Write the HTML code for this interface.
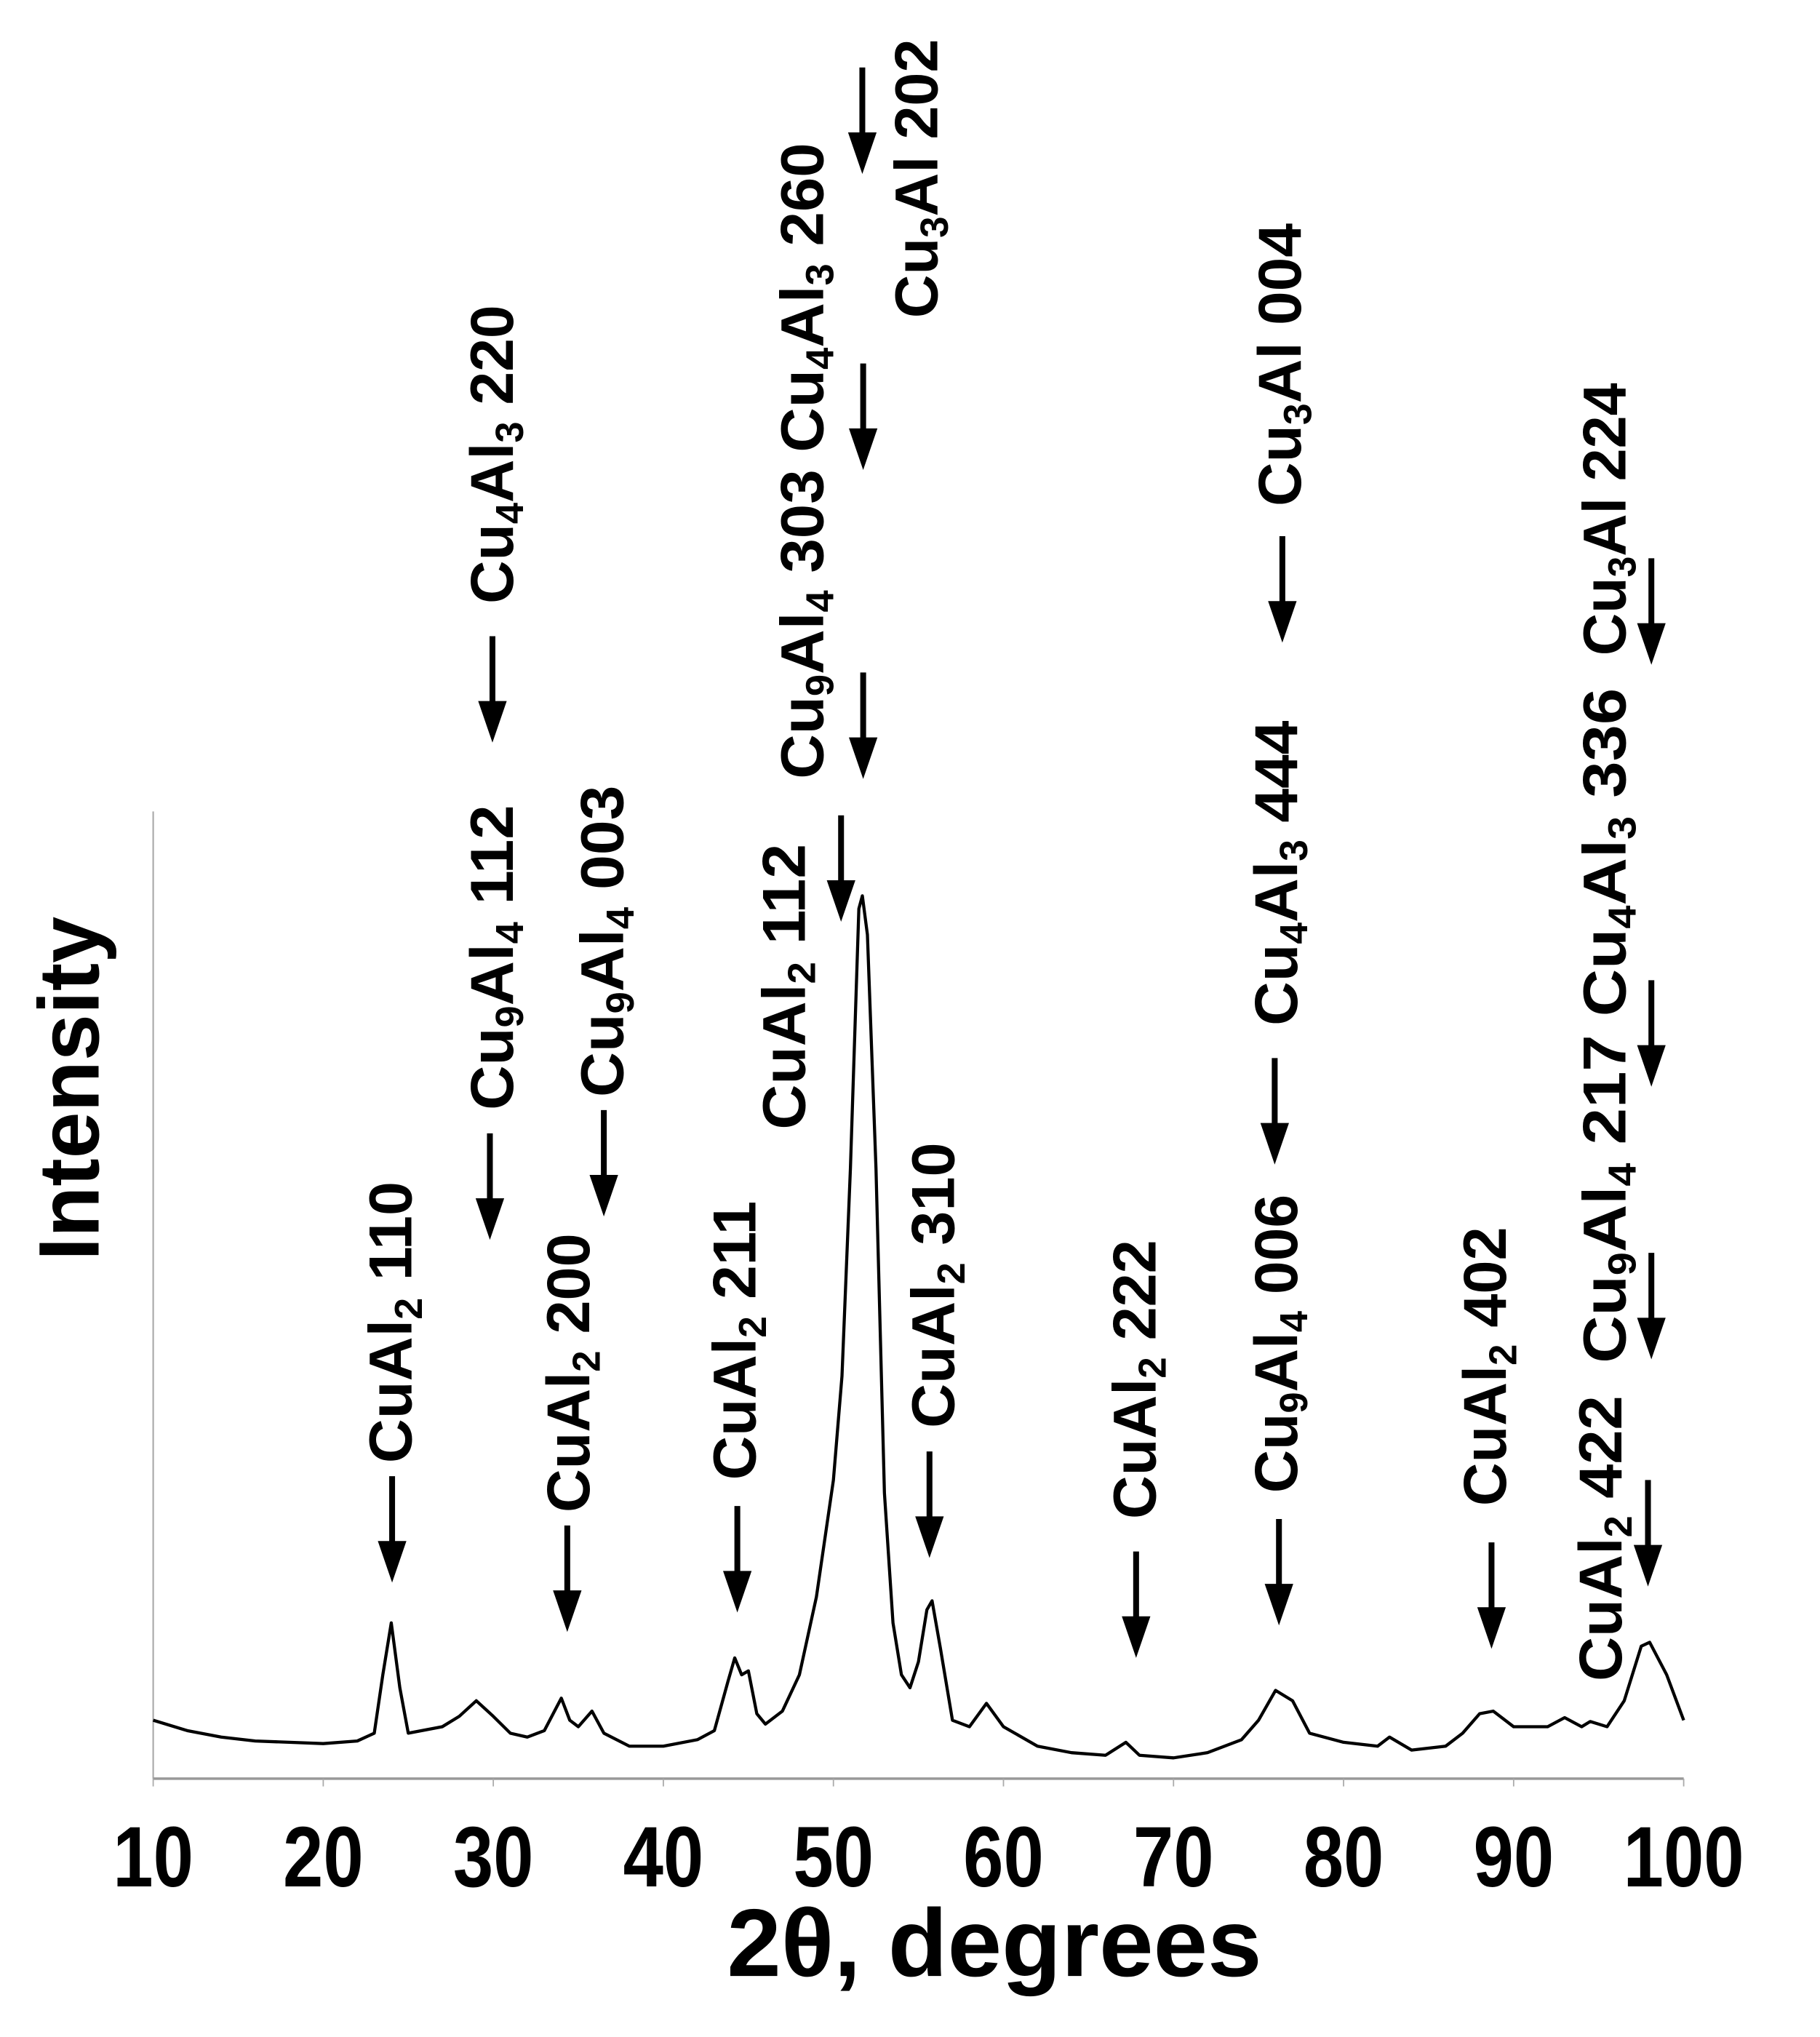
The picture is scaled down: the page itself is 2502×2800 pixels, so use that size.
<!DOCTYPE html>
<html><head><meta charset="utf-8"><style>
html,body{margin:0;padding:0;background:#fff;}
svg{display:block;}
text{font-family:"Liberation Sans",Arial,sans-serif;font-weight:bold;fill:#000;}
</style></head><body>
<svg id="chart" width="2502" height="2800" viewBox="0 0 1402 1569" xmlns="http://www.w3.org/2000/svg">
<rect width="1402" height="1569" fill="#fff"/>
<g id="axes"></g>
<path id="curve" fill="none" stroke="#000" stroke-width="2.4" stroke-linejoin="round"/>
<g id="annots"></g>
<text transform="translate(76,971) rotate(-90)" font-size="66" textLength="265" lengthAdjust="spacingAndGlyphs">Intensity</text>
<text x="560" y="1522" font-size="74" textLength="412" lengthAdjust="spacingAndGlyphs">2θ, degrees</text>
</svg>
<script>
const xTicks = [10,20,30,40,50,60,70,80,90,100];
const theta = [10,12,14,16,18,20,22,23,23.5,24,24.5,25,27,28,29,30,31,32,33,34,34.5,35,35.8,36.5,38,40,42,43,43.8,44.2,44.6,45,45.5,46,47,48,49,50,50.5,51,51.5,51.7,52,52.5,53,53.5,54,54.5,55,55.5,55.8,56.3,57,58,59,60,62,64,66,67.2,68,70,72,73,74,75,76,77,78,80,82,82.7,84,86,87,88,88.8,90,92,93,94,94.5,95.5,96.5,97.5,98,99,100];
const intensity = [45,37,32,29,28,27,29,35,80,120,70,35,40,48,60,48,35,32,37,62,45,40,52,35,25,25,30,37,75,93,80,83,50,42,52,80,140,230,310,470,670,680,650,470,220,120,80,70,90,130,137,100,45,40,58,40,25,20,18,28,18,16,20,25,30,45,68,60,35,28,25,32,22,25,35,50,52,40,40,47,40,44,40,60,102,105,80,45];
const annotTheta = [24.05,29.8,29.95,34.35,36.5,44.35,50.45,51.75,51.75,51.7,55.65,67.8,76.2,75.95,76.4,88.7,97.9,98.1,98.1,98.1];
const annotTop = [1137,873,490,1175,855,1160,628,518,280,52,1118,1195,1170,815,413,1188,1140,965,755,430];
const X0=118, X1=1297, Y0=1370;
function xs(t){return X0+(t-10)/90*(X1-X0);}
function ys(v){return Y0-v;}
const NS="http://www.w3.org/2000/svg";
function el(tag,attrs,parent){const e=document.createElementNS(NS,tag);for(const k in attrs)e.setAttribute(k,attrs[k]);parent.appendChild(e);return e;}
const axes=document.getElementById('axes');
let a=el('line',{x1:X0,y1:625,x2:X0,y2:Y0,stroke:'#aaa','stroke-width':1.2},axes);


a=el('line',{x1:X0,y1:Y0,x2:X1,y2:Y0,stroke:'#999','stroke-width':2},axes);


xTicks.forEach(t=>{
  const tk=el('line',{x1:xs(t),y1:Y0,x2:xs(t),y2:Y0+6,stroke:'#aaa','stroke-width':1},axes);
  
  
  const s=String(t);
  const tx=el('text',{x:xs(t),y:1453,'font-size':66,'text-anchor':'middle',textLength:(s.length*31),lengthAdjust:'spacingAndGlyphs'},axes);
  tx.textContent=s;
  
  
});
let d='';
theta.forEach((t,i)=>{d+=(i?'L':'M')+xs(t).toFixed(1)+','+ys(intensity[i]).toFixed(1);});
document.getElementById('curve').setAttribute('d',d);
const an=document.getElementById('annots');
annotTheta.forEach((t,i)=>{
  const x=xs(t), top=annotTop[i], tip=top+82;
  const g=el('g',{},an);
  
  
  el('line',{x1:x,y1:top,x2:x,y2:tip-28,stroke:'#000','stroke-width':4.5},g);
  el('polygon',{points:(x-11)+','+(tip-32)+' '+(x+11)+','+(tip-32)+' '+x+','+tip,fill:'#000'},g);
});
const labels=[
 [300,1127,217,[['CuAl'],['2',1],[' 110']]],
 [378,855,235,[['Cu'],['9',1],['Al'],['4',1],[' 112']]],
 [378,465,230,[['Cu'],['4',1],['Al'],['3',1],[' 220']]],
 [437,1165,215,[['CuAl'],['2',1],[' 200']]],
 [463,845,240,[['Cu'],['9',1],['Al'],['4',1],[' 003']]],
 [565,1140,215,[['CuAl'],['2',1],[' 211']]],
 [603,870,220,[['CuAl'],['2',1],[' 112']]],
 [617,600,490,[['Cu'],['9',1],['Al'],['4',1],[' 303  Cu'],['4',1],['Al'],['3',1],[' 260']]],
 [705,245,215,[['Cu'],['3',1],['Al 202']]],
 [718,1100,220,[['CuAl'],['2',1],[' 310']]],
 [873,1170,215,[['CuAl'],['2',1],[' 222']]],
 [982,1150,230,[['Cu'],['9',1],['Al'],['4',1],[' 006']]],
 [982,790,235,[['Cu'],['4',1],['Al'],['3',1],[' 444']]],
 [985,390,218,[['Cu'],['3',1],['Al 004']]],
 [1143,1160,215,[['CuAl'],['2',1],[' 402']]],
 [1232,1295,220,[['CuAl'],['2',1],[' 422']]],
 [1235,1050,520,[['Cu'],['9',1],['Al'],['4',1],[' 217  Cu'],['4',1],['Al'],['3',1],[' 336']]],
 [1235,505,210,[['Cu'],['3',1],['Al 224']]]
];
labels.forEach(L=>{
  const t=el('text',{transform:'translate('+(L[0]+17)+','+L[1]+') rotate(-90)','font-size':47,textLength:L[2],lengthAdjust:'spacingAndGlyphs','xml:space':'preserve'},an);
  
  
  L[3].forEach((p,j)=>{
    const s=el('tspan',{},t);
    if(p[1]){s.setAttribute('font-size','30');s.setAttribute('dy','8');}
    else if(j>0 && L[3][j-1][1]){s.setAttribute('dy','-8');}
    s.textContent=p[0];
  });
});
</script>
</body></html>
